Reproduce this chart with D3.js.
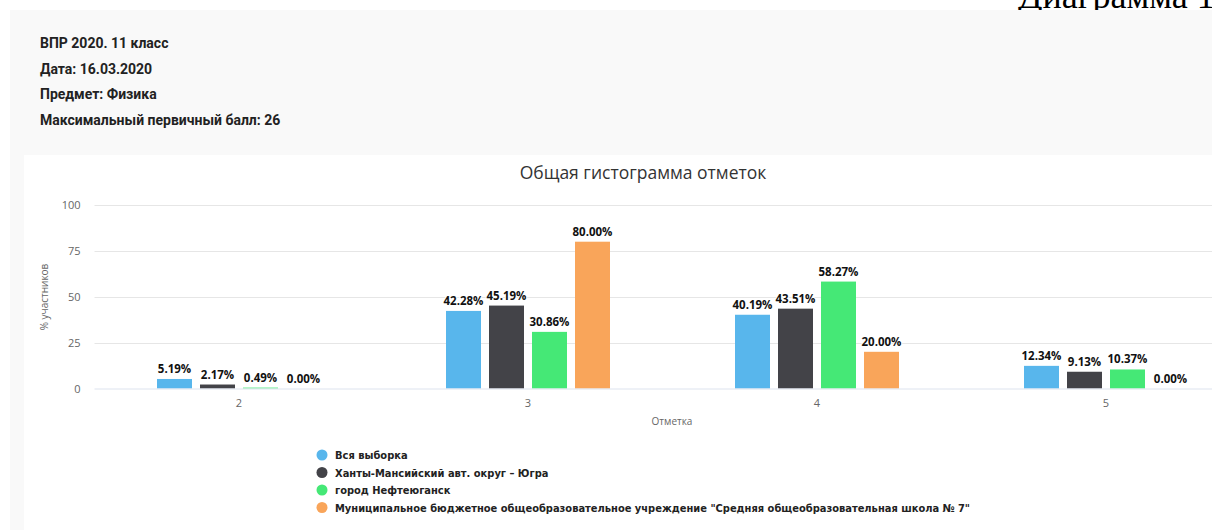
<!DOCTYPE html>
<html>
<head>
<meta charset="utf-8">
<script src="https://cdn.jsdelivr.net/npm/d3@7"></script>
<style>
  body { margin: 0; background: #fff; }
  svg { display: block; }
</style>
</head>
<body>
<svg id="chart" width="1212" height="530"></svg>
<script>
// Chart data
const headerLines = ["ВПР 2020. 11 класс", "Дата: 16.03.2020", "Предмет: Физика", "Максимальный первичный балл: 26"];
const categories = ["2", "3", "4", "5"];
const seriesNames = [
  "Вся выборка",
  "Ханты-Мансийский авт. округ – Югра",
  "город Нефтеюганск",
  "Муниципальное бюджетное общеобразовательное учреждение \"Средняя общеобразовательная школа № 7\""
];
const allSample = [5.19, 42.28, 40.19, 12.34];
const yugra = [2.17, 45.19, 43.51, 9.13];
const nefteyugansk = [0.49, 30.86, 58.27, 10.37];
const school = [0.00, 80.00, 20.00, 0.00];
const yTicks = [0, 25, 50, 75, 100];
const colors = ["#58b6ec", "#434348", "#45e876", "#f9a55a"];

const seriesValues = [allSample, yugra, nefteyugansk, school];

const svg = d3.select("#chart");

// page caption, cut at the top edge like in the scan
svg.append("text")
  .attr("x", 1018).attr("y", 8)
  .attr("font-family", "Liberation Serif")
  .attr("font-size", 36)
  .attr("fill", "#000")
  .text("Диаграмма 1");

// gray panel behind header
svg.append("rect").attr("x", 10).attr("y", 10).attr("width", 1202).attr("height", 520).attr("fill", "#f9f9f9");
svg.append("rect").attr("x", 24).attr("y", 155).attr("width", 1188).attr("height", 375).attr("fill", "#fff");

svg.append("g").selectAll("text")
  .data(headerLines)
  .join("text")
    .attr("x", 40)
    .attr("y", (d, i) => 48 + i * 25.7)
    .attr("font-family", "Roboto")
    .attr("font-weight", "bold")
    .attr("font-size", 14)
    .attr("fill", "#222")
    .text(d => d);

// scales
const x = d3.scaleBand()
  .domain(categories)
  .range([94.5, 1250.5]);

const x1 = d3.scaleBand()
  .domain(d3.range(seriesNames.length))
  .range([62.5, 226.5])
  .paddingInner(8 / 43);

const y = d3.scaleLinear()
  .domain([0, 100])
  .range([388.5, 205]);

// title
svg.append("text")
  .attr("x", 643).attr("y", 179)
  .attr("text-anchor", "middle")
  .attr("font-family", "Open Sans")
  .attr("font-size", 17.5)
  .attr("fill", "#333")
  .text("Общая гистограмма отметок");

// grid
svg.append("g").selectAll("line")
  .data(yTicks.filter(d => d > 0))
  .join("line")
    .attr("x1", 94.5).attr("x2", 1212)
    .attr("y1", d => Math.round(y(d)) + 0.5)
    .attr("y2", d => Math.round(y(d)) + 0.5)
    .attr("stroke", "#e6e6e6");

// y axis
const yAxis = svg.append("g")
  .attr("transform", "translate(94.5,0)")
  .call(d3.axisLeft(y).tickValues(yTicks).tickSize(0).tickPadding(14));
yAxis.select(".domain").remove();
yAxis.selectAll("text")
  .attr("font-family", "Open Sans")
  .attr("font-size", 11)
  .attr("fill", "#666");

svg.append("text")
  .attr("transform", "translate(48,297) rotate(-90)")
  .attr("text-anchor", "middle")
  .attr("font-family", "Open Sans")
  .attr("font-size", 10)
  .attr("fill", "#666")
  .text("% участников");

// bars
const groups = svg.append("g").selectAll("g")
  .data(categories)
  .join("g")
    .attr("transform", d => `translate(${x(d)},0)`);

groups.selectAll("rect")
  .data((c, ci) => seriesValues.map((vals, si) => ({ si, v: vals[ci] })))
  .join("rect")
    .attr("x", d => x1(d.si))
    .attr("width", x1.bandwidth())
    .attr("y", d => y(d.v))
    .attr("height", d => y(0) - y(d.v))
    .attr("fill", d => colors[d.si]);

groups.selectAll("text")
  .data((c, ci) => seriesValues.map((vals, si) => ({ si, v: vals[ci] })))
  .join("text")
    .attr("x", d => x1(d.si) + x1.bandwidth() / 2)
    .attr("y", d => y(d.v) - 6)
    .attr("text-anchor", "middle")
    .attr("font-family", "Open Sans")
    .attr("font-weight", "bold")
    .attr("font-size", 11.5)
    .attr("fill", "#111")
    .attr("stroke", "#fff")
    .attr("stroke-width", 2)
    .attr("paint-order", "stroke")
    .text(d => d.v.toFixed(2) + "%");

// x axis
const xAxis = svg.append("g")
  .attr("transform", "translate(0,389)")
  .call(d3.axisBottom(x).tickSize(0).tickPadding(10));
xAxis.select(".domain").attr("stroke", "#dde3ee").attr("d", "M94.5,0H1212");
xAxis.selectAll("text")
  .attr("font-family", "Open Sans")
  .attr("font-size", 11)
  .attr("fill", "#666");

svg.append("text")
  .attr("x", 672).attr("y", 425)
  .attr("text-anchor", "middle")
  .attr("font-family", "Open Sans")
  .attr("font-size", 10)
  .attr("fill", "#666")
  .text("Отметка");

// legend
const legend = svg.append("g").selectAll("g")
  .data(seriesNames)
  .join("g")
    .attr("transform", (d, i) => `translate(322,${455 + i * 17.5})`);
legend.append("circle")
  .attr("r", 5.5)
  .attr("fill", (d, i) => colors[i]);
legend.append("text")
  .attr("x", 13)
  .attr("y", 4)
  .attr("font-family", "DejaVu Sans Condensed")
  .attr("font-weight", "bold")
  .attr("font-size", 11)
  .attr("fill", "#222")
  .text(d => d);
</script>
</body>
</html>
